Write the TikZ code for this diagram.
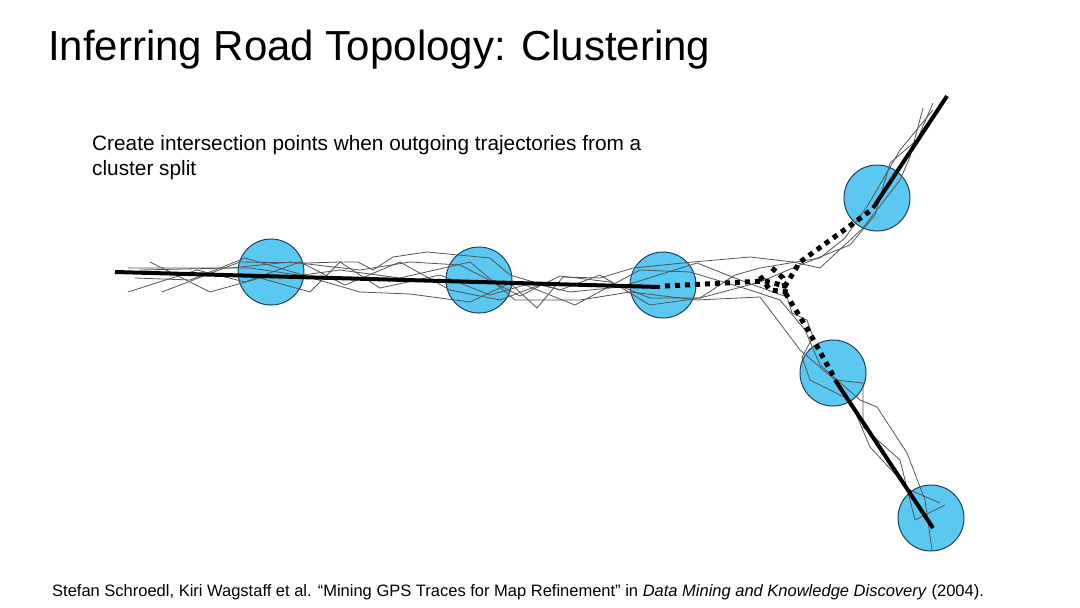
\documentclass[tikz,border=0pt]{standalone}
\usepackage{fontspec}
\setmainfont{Liberation Sans}
\begin{document}
\begin{tikzpicture}[x=1pt,y=-1pt,
  cluster/.style={circle,draw={rgb,255:red,30;green,65;blue,90},line width=1pt,
    fill={rgb,255:red,90;green,200;blue,240},minimum size=66pt,inner sep=0pt},
  traj/.style={draw={rgb,255:red,85;green,85;blue,85},line width=0.8pt,line join=round},
  road/.style={draw=black,line width=4pt},
  roaddash/.style={draw=black,line width=5pt,dash pattern=on 5pt off 5pt},
  txt/.style={inner sep=0pt,anchor=base west,align=left}]
\useasboundingbox (0,0) rectangle (1080,608);
\fill[white] (0,0) rectangle (1080,608);

% text
\node[txt,font=\fontsize{42}{48}\selectfont] (title) at (48,60) {Inferring Road Topology: Clustering};
\node[txt,font=\fontsize{20.8}{25}\selectfont] (desc) at (92,175)
  {Create intersection points when outgoing trajectories from a\\cluster split};
\node[txt,font=\fontsize{16.5}{18}\selectfont] (cite) at (52,596)
  {Stefan Schroedl, Kiri Wagstaff et al. “Mining GPS Traces for Map Refinement” in \textit{Data Mining and Knowledge Discovery} (2004).};

% clusters
\node[cluster] (c1) at (271,272) {};
\node[cluster] (c2) at (479,280) {};
\node[cluster] (c3) at (663,285) {};
\node[cluster] (c4) at (877,198) {};
\node[cluster] (c5) at (833,373) {};
\node[cluster] (c6) at (931,518) {};

% trajectories
\draw[traj] (128,268) -- (250,268) -- (305,276) -- (360,292) -- (410,294) -- (470,302) -- (510,283) -- (537,308) -- (563,277) -- (600,278) -- (633,268) -- (693,262) -- (750,257) -- (793,262) -- (820,268) -- (863,228) -- (900,180) -- (910,157) -- (923,108);
\draw[traj] (150,262) -- (210,292) -- (260,278) -- (310,292) -- (340,262) -- (358,262) -- (373,270) -- (393,257) -- (427,252) -- (490,258) -- (510,275) -- (560,290) -- (600,275) -- (650,305) -- (700,298) -- (760,282) -- (800,265) -- (850,245) -- (875,215) -- (890,163) -- (917,140) -- (933,103);
\draw[traj] (128,292) -- (197,270) -- (245,282) -- (300,262) -- (345,285) -- (400,262) -- (450,290) -- (500,300) -- (540,285) -- (570,292) -- (620,287) -- (697,263) -- (740,280) -- (787,297) -- (792,313) -- (807,320) -- (813,337) -- (802,357) -- (810,380) -- (850,400) -- (870,447) -- (910,490) -- (940,503);
\draw[traj] (162,292) -- (240,262) -- (307,263) -- (340,262) -- (380,288) -- (440,275) -- (490,295) -- (525,285) -- (575,305) -- (640,270) -- (690,272) -- (750,290) -- (780,300) -- (790,312) -- (805,330) -- (820,365) -- (860,400) -- (877,407) -- (907,453) -- (925,500) -- (932,550);
\draw[traj] (135,278) -- (190,280) -- (245,258) -- (303,275) -- (340,270) -- (400,278) -- (470,262) -- (515,300) -- (580,300) -- (630,292) -- (697,300) -- (760,297) -- (785,330) -- (800,350) -- (835,380) -- (863,383) -- (863,427) -- (900,460) -- (915,520) -- (945,505);
\draw[traj] (140,270) -- (230,268) -- (290,262) -- (360,270) -- (410,262) -- (460,265) -- (520,296) -- (560,276) -- (610,282) -- (650,298) -- (700,298) -- (735,275) -- (760,268) -- (820,258) -- (845,238) -- (868,205) -- (878,188) -- (900,150) -- (933,110);

% inferred road
\draw[road] (115,272) -- (660,287);
\draw[road] (873,208) -- (947,96);
\draw[road] (835,380) -- (933,528);
\draw[roaddash] (665,286) -- (765,281) -- (785,286) -- (800,262) -- (840,233) -- (870,211);
\draw[roaddash] (772,268) -- (783,278) -- (786,294) -- (808,330) -- (835,379);
\draw[roaddash] (760,276) -- (770,290) -- (788,292);
\end{tikzpicture}
\end{document}
